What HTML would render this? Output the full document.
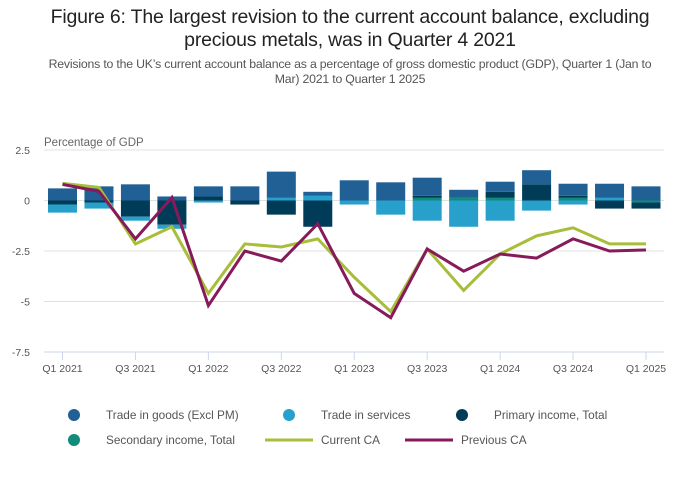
<!DOCTYPE html>
<html><head><meta charset="utf-8">
<style>
body{margin:0;background:#fff;font-family:"Liberation Sans",sans-serif;}
#wrap{position:relative;width:700px;height:502px;overflow:hidden;}
.title{position:absolute;left:0;width:700px;top:6px;text-align:center;font-size:19.5px;line-height:23px;color:#222;letter-spacing:-0.2px;}
.sub{position:absolute;left:10px;width:680px;top:57px;text-align:center;font-size:12.3px;line-height:15px;color:#555;letter-spacing:-0.2px;}
svg text{font-family:"Liberation Sans",sans-serif;}
</style></head><body>
<div id="wrap">
<div class="title">Figure 6: The largest revision to the current account balance, excluding<br>precious metals, was in Quarter 4 2021</div>
<div class="sub">Revisions to the UK’s current account balance as a percentage of gross domestic product (GDP), Quarter 1 (Jan to<br>Mar) 2021 to Quarter 1 2025</div>
<svg id="svg" width="700" height="502" style="position:absolute;left:0;top:0"></svg>
</div>
<script>
const categories=["Q1 2021","Q2 2021","Q3 2021","Q4 2021","Q1 2022","Q2 2022","Q3 2022","Q4 2022","Q1 2023","Q2 2023","Q3 2023","Q4 2023","Q1 2024","Q2 2024","Q3 2024","Q4 2024","Q1 2025"];
const goods=[0.6,0.7,0.8,0.2,0.5,0.7,1.3,0.2,1.0,0.9,0.9,0.4,0.5,0.7,0.6,0.7,0.7];
const services=[-0.4,-0.3,-0.2,-0.2,-0.1,0,0.13,0.23,-0.2,-0.7,-1.0,-1.3,-1.0,-0.5,-0.2,0.13,0];
const primary=[-0.2,-0.1,-0.8,-1.2,0.2,-0.2,-0.7,-1.3,0,0,0.1,0,0.3,0.8,0.1,-0.4,-0.3];
const secondary=[0,0,0,0,0,0,0,0,0,0,0.13,0.13,0.13,0,0.13,0,-0.1];
const currentCA=[0.85,0.65,-2.15,-1.3,-4.6,-2.15,-2.3,-1.9,-3.8,-5.5,-2.4,-4.45,-2.65,-1.75,-1.35,-2.15,-2.15];
const previousCA=[0.8,0.45,-1.9,0.15,-5.2,-2.5,-3.0,-1.15,-4.6,-5.8,-2.4,-3.5,-2.65,-2.85,-1.9,-2.5,-2.45];
const yTicks=[2.5,0,-2.5,-5,-7.5];
const yTickLabels=["2.5","0","-2.5","-5","-7.5"];

const NS="http://www.w3.org/2000/svg";
const svg=document.getElementById('svg');
const x0=62.5,x1=646,yTop=150,yBot=352,yMax=2.5,yMin=-7.5;
function xs(i){return x0+(x1-x0)*i/(categories.length-1);}
function ys(v){return yTop+(yMax-v)/(yMax-yMin)*(yBot-yTop);}
function mk(tag,attrs){const e=document.createElementNS(NS,tag);for(const k in attrs)e.setAttribute(k,attrs[k]);svg.appendChild(e);return e;}

yTicks.forEach((t,i)=>{
  if(t!==yMin){const g=mk('line',{x1:44,x2:664,y1:ys(t),y2:ys(t),stroke:'#e0e0e0','stroke-width':1});
  
  }
  const tx=mk('text',{x:30,y:ys(t)+4,'text-anchor':'end','font-size':10.5,fill:'#555'});
  tx.textContent=yTickLabels[i];
  
  
});
const yt=mk('text',{x:44,y:146,'font-size':11.5,fill:'#666'});yt.textContent="Percentage of GDP";


const ax=mk('line',{x1:44,x2:664,y1:yBot,y2:yBot,stroke:'#ccd6eb','stroke-width':1});


categories.forEach((c,i)=>{
  if(i%2===0){
    const tk=mk('line',{x1:xs(i),x2:xs(i),y1:yBot,y2:yBot+8,stroke:'#ccd6eb','stroke-width':1});
    
    
    const tx=mk('text',{x:xs(i),y:yBot+20,'text-anchor':'middle','font-size':10.5,fill:'#555'});
    tx.textContent=c;
    
    
  }
});
const stackOrder=[[secondary,'#118c7b','secondary-income'],[primary,'#003c57','primary-income'],[services,'#27a0cc','trade-in-services'],[goods,'#206095','trade-in-goods']];
const bw=29;
categories.forEach((c,i)=>{
  let pos=0,neg=0;
  stackOrder.forEach(([arr,col,nm])=>{
    const v=arr[i];if(!v)return;
    let a,b;
    if(v>0){a=pos;b=pos+v;pos=b;}else{a=neg;b=neg+v;neg=b;}
    const yA=ys(Math.max(a,b)),yB=ys(Math.min(a,b));
    const r=mk('rect',{x:xs(i)-bw/2,y:yA,width:bw,height:yB-yA,fill:col});
    
    
  });
});
function line(arr,col,nm){
  const p=mk('polyline',{points:arr.map((v,i)=>xs(i)+','+ys(v)).join(' '),fill:'none',stroke:col,'stroke-width':3,'stroke-linejoin':'miter'});
  
  
}
line(currentCA,'#a8bd3a','current-ca-line');
line(previousCA,'#871a5b','previous-ca-line');

const legend=[['circle','#206095','Trade in goods (Excl PM)',74,106,415],['circle','#27a0cc','Trade in services',289,321,415],['circle','#003c57','Primary income, Total',462,494,415],
['circle','#118c7b','Secondary income, Total',74,106,440],['line','#a8bd3a','Current CA',289,321,440],['line','#871a5b','Previous CA',429,461,440]];
legend.forEach(([k,col,lab,cx,tx,y])=>{
  let m;
  if(k==='circle')m=mk('circle',{cx:cx,cy:y,r:6,fill:col});
  else m=mk('line',{x1:cx-24,x2:cx+24,y1:y,y2:y,stroke:col,'stroke-width':3});
  
  
  const t=mk('text',{x:tx,y:y+4,'font-size':11.8,fill:'#555'});
  t.textContent=lab;
  
  
});
</script>
</body></html>
